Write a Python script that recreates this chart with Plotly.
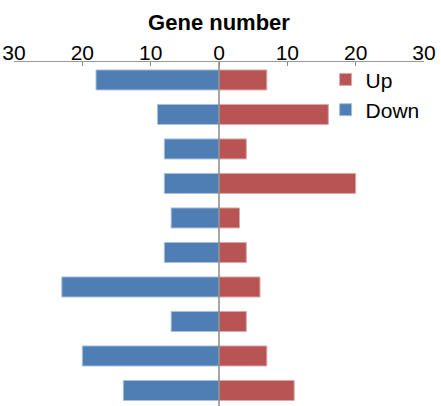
import plotly.graph_objects as go

categories = list(range(10))
down_values = [18, 9, 8, 8, 7, 8, 23, 7, 20, 14]
up_values = [7, 16, 4, 20, 3, 4, 6, 4, 7, 11]
tick_vals = [-30, -20, -10, 0, 10, 20, 30]
tick_text = ["30", "20", "10", "0", "10", "20", "30"]

FONT = "Liberation Sans, Arial, sans-serif"
RED = "#B95455"
BLUE = "#4F7EB4"

fig = go.Figure()
fig.add_trace(go.Bar(
    y=categories, x=up_values, orientation="h", name="Up",
    marker=dict(color=RED, line=dict(color="#d9a9aa", width=1)),
    width=0.58,
))
fig.add_trace(go.Bar(
    y=categories, x=[-v for v in down_values], orientation="h", name="Down",
    marker=dict(color=BLUE, line=dict(color="#a9bfda", width=1)),
    width=0.58,
))

# vertical axis line at zero, drawn above the bars
fig.add_shape(type="line", xref="x", yref="paper", x0=0, x1=0, y0=0, y1=1,
              line=dict(color="#888888", width=1.5), layer="above")

fig.update_layout(
    width=441, height=406,
    margin=dict(l=14, r=17, t=62, b=0, autoexpand=False),
    paper_bgcolor="white", plot_bgcolor="white",
    barmode="relative",
    font=dict(family=FONT, size=21, color="black"),
    showlegend=True,
    legend=dict(
        x=0.76, y=1.008, xanchor="left", yanchor="top",
        font=dict(family=FONT, size=21, color="black"),
        bgcolor="rgba(0,0,0,0)", itemwidth=30,
        tracegroupgap=0, traceorder="normal",
    ),
    xaxis=dict(
        side="top", range=[-30, 30],
        tickvals=tick_vals, ticktext=tick_text,
        ticks="inside", ticklen=4, tickcolor="#888888",
        ticklabelstandoff=-7,
        showline=True, linecolor="#999999", linewidth=1,
        showgrid=False, zeroline=False, automargin=False,
        tickfont=dict(family=FONT, size=21, color="black"),
        title=dict(text="<b>Gene number</b>", font=dict(family=FONT, size=22, color="black"), standoff=3),
        fixedrange=True,
    ),
    yaxis=dict(
        range=[9.45, -0.52],
        showticklabels=False, ticks="",
        showgrid=False, zeroline=False, showline=False, automargin=False,
        fixedrange=True,
    ),
)

fig.write_html(
    "out.html",
    config={"displayModeBar": False, "staticPlot": True},
    post_script="document.body.style.margin='0';document.body.style.overflow='hidden';",
)
